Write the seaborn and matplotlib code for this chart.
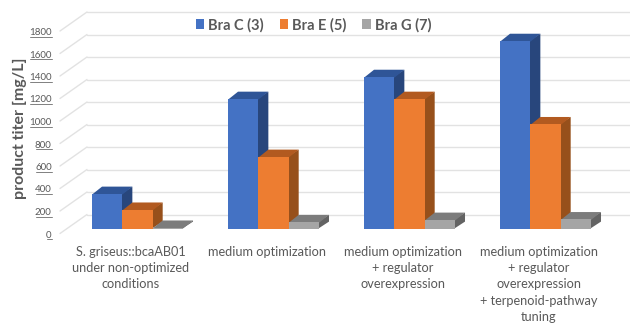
import pandas as pd
import matplotlib
matplotlib.use("Agg")
import matplotlib.pyplot as plt
from matplotlib.patches import Polygon
from matplotlib.transforms import ScaledTranslation
import seaborn as sns

categories = [
    "S. griseus::bcaAB01\nunder non-optimized\nconditions",
    "medium optimization",
    "medium optimization\n+ regulator\noverexpression",
    "medium optimization\n+ regulator\noverexpression\n+ terpenoid-pathway\ntuning",
]
series = ["Bra C (3)", "Bra E (5)", "Bra G (7)"]
bra_c = [311, 1155, 1350, 1670]
bra_e = [170, 640, 1155, 930]
bra_g = [10, 60, 80, 85]
yticks = [0, 200, 400, 600, 800, 1000, 1200, 1400, 1600, 1800]

front_cols = ["#4472c4", "#ed7d31", "#a5a5a5"]
side_cols = ["#28467c", "#97501b", "#636363"]
top_cols = ["#2f5597", "#b25a20", "#7c7c7c"]
text_col = "#595959"
grid_col = "#e2e2e2"

df = pd.DataFrame({
    "condition": categories * 3,
    "strain": [s for s in series for _ in categories],
    "titer": bra_c + bra_e + bra_g,
})

sns.set_theme(style="white")
plt.rcParams["font.family"] = ["Lato", "DejaVu Sans"]

W, H = 630, 325
fig = plt.figure(figsize=(W / 100, H / 100), dpi=100)
# plot box in pixels: x 60..630, baseline of the bars at y=229
ax = fig.add_axes([60 / W, (H - 229) / H, 570 / W, 229 / H])

sns.barplot(data=df, x="condition", y="titer", hue="strain", order=categories,
            hue_order=series, palette=front_cols, width=0.669, gap=0,
            saturation=1, linewidth=0, ax=ax)

px_x = 136  # pixels per category
px_y = 0.1125  # pixels per mg/L
ax.set_xlim(-0.57, -0.57 + 570 / px_x)
ax.set_ylim(0, 229 / px_y)


def shift(dx, dy):
    return ScaledTranslation(dx / 100, -dy / 100, fig.dpi_scale_trans)


# back wall and the slanted side lines, wall sits 27px right and 19px up of the front edge
wall = ax.get_yaxis_transform()
front = wall + shift(0, 4.5)
back_x = 27 / 570
back_y = 19 * (1 / px_y)
for v in yticks:
    ax.plot([back_x, 1], [v, v], color=grid_col, lw=1.0, zorder=1,
            transform=front + shift(0, -19), clip_on=False)
    ax.plot([0, back_x], [v, v + back_y], color=grid_col, lw=1.0, zorder=1,
            transform=front, clip_on=False)

# 3d depth of each bar
dx = 10 / px_x
dy = 7.4 / px_y
under = 0.01  # faces run slightly under the front so no light seam shows
for i, bars in enumerate(ax.containers):
    for bar in bars:
        x0 = bar.get_x()
        x1 = x0 + bar.get_width()
        h = bar.get_height()
        z = 3 + i
        bar.set_zorder(z + 0.1)
        top = [(x0, h - 5), (x1, h - 5), (x1 + dx, h + dy), (x0 + dx, h + dy)]
        side = [(x1 - under, 0), (x1 + dx, dy), (x1 + dx, h + dy), (x1 - under, h)]
        ax.add_patch(Polygon(side, color=side_cols[i], lw=0, zorder=z, clip_on=False))
        ax.add_patch(Polygon(top, color=top_cols[i], lw=0, zorder=z, clip_on=False))

ax.set_yticks(yticks)
ax.set_yticklabels([str(v) for v in yticks])
ax.tick_params(axis="y", length=0, pad=6, labelsize=7, labelcolor=text_col)
ax.tick_params(axis="x", length=0, pad=12, labelsize=9.2, labelcolor=text_col)
for lab in ax.get_yticklabels():
    lab.set_transform(lab.get_transform() + shift(0, 5))
for lab in ax.get_xticklabels():
    lab.set_transform(lab.get_transform() + shift(-7, 0))
    lab.set_linespacing(1.44)

# tick labels in the reference carry a rule underneath
for v in yticks:
    w = 5.5 * len(str(v))
    ax.plot([-8 / 570 - w / 570, -8 / 570], [v, v], color="#808080", lw=0.7,
            transform=wall + shift(0, 10), clip_on=False)

ax.set_xlabel("")
ax.set_ylabel("")
fig.text(20 / W, 1 - 128 / H, "product titer [mg/L]", rotation=90, ha="center",
         va="center", fontsize=11.5, fontweight="bold", color=text_col)

sns.despine(ax=ax, left=True, bottom=True)
sns.move_legend(ax, "center", bbox_to_anchor=(313.5 / W, 1 - 25 / H),
                bbox_transform=fig.transFigure, ncol=3, frameon=False, title=None,
                fontsize=10.5, handlelength=0.6, handleheight=0.6,
                handletextpad=0.27, columnspacing=1.07)
for t in ax.get_legend().get_texts():
    t.set_color(text_col)
    t.set_fontweight("bold")

fig.savefig("out.png", dpi=100)
